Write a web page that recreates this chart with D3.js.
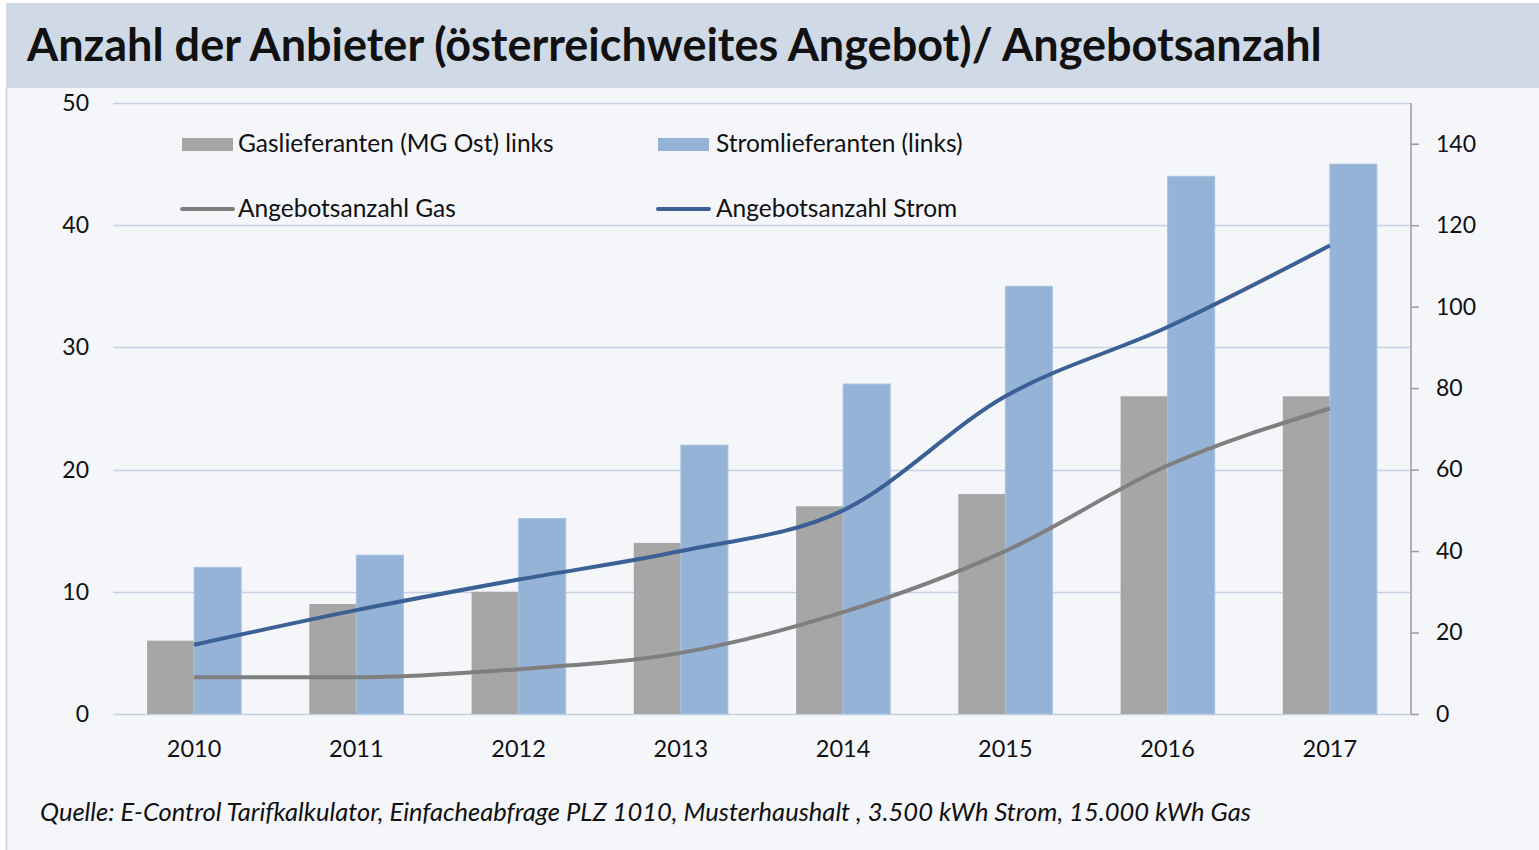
<!DOCTYPE html>
<html>
<head>
<meta charset="utf-8">
<script src="https://cdnjs.cloudflare.com/ajax/libs/d3/7.8.5/d3.min.js"></script>
<style>
  body { margin: 0; background: #fff; }
  text { font-family: Lato, "Open Sans", sans-serif; fill: #111; }
</style>
</head>
<body>
<div id="chart"></div>
<script>
  var years = ["2010", "2011", "2012", "2013", "2014", "2015", "2016", "2017"];
  var gasLieferanten = [6, 9, 10, 14, 17, 18, 26, 26];
  var stromLieferanten = [12, 13, 16, 22, 27, 35, 44, 45];
  var angeboteGas = [9, 9, 11, 15, 25, 40, 61, 75];
  var angeboteStrom = [17, 25.5, 33, 40, 50, 78, 95, 115];
  var leftTicks = [0, 10, 20, 30, 40, 50];
  var rightTicks = [0, 20, 40, 60, 80, 100, 120, 140];

  var W = 1539, H = 850;
  var plot = {left: 113, right: 1411, top: 103, bottom: 714};

  var svg = d3.select("#chart").append("svg")
      .attr("width", W)
      .attr("height", H);

  // backgrounds
  svg.append("rect").attr("x", 6).attr("y", 88).attr("width", W - 6).attr("height", H - 88)
      .attr("fill", "#f4f6fa");
  svg.append("line").attr("x1", 6.5).attr("x2", 6.5).attr("y1", 88).attr("y2", H)
      .attr("stroke", "#cfd9e6").attr("stroke-width", 2);
  svg.append("rect").attr("x", 6).attr("y", 3).attr("width", W - 6).attr("height", 85)
      .attr("fill", "#d0dae6");
  svg.append("text")
      .attr("x", 27).attr("y", 61)
      .style("font-size", "45px").style("font-weight", "bold")
      .text("Anzahl der Anbieter (österreichweites Angebot)/ Angebotsanzahl");

  var x0 = d3.scaleBand().domain(years).range([plot.left, plot.right])
      .paddingInner(0.42).paddingOuter(0.21);
  var x1 = d3.scaleBand().domain(["gas", "strom"]).range([0, x0.bandwidth()]);
  var yL = d3.scaleLinear().domain([0, 50]).range([plot.bottom, plot.top]);
  var yR = d3.scaleLinear().domain([0, 150]).range([plot.bottom, plot.top]);

  // gridlines
  svg.append("g").selectAll("line").data(leftTicks).enter().append("line")
      .attr("x1", plot.left).attr("x2", plot.right)
      .attr("y1", function(d) { return Math.round(yL(d)) + 0.5; })
      .attr("y2", function(d) { return Math.round(yL(d)) + 0.5; })
      .attr("stroke", "#c5d1e3").attr("stroke-width", 1.5);

  // left labels
  svg.append("g").selectAll("text").data(leftTicks).enter().append("text")
      .attr("x", 89).attr("y", function(d) { return yL(d) + 8; })
      .attr("text-anchor", "end").style("font-size", "23px")
      .text(function(d) { return d; });

  // right axis
  var rAxis = svg.append("g")
      .attr("transform", "translate(" + plot.right + ",0)")
      .call(d3.axisRight(yR).tickValues(rightTicks).tickSize(8).tickPadding(17));
  rAxis.select(".domain").attr("stroke", "#9a9a9a").attr("stroke-width", 1.5)
      .attr("d", "M0," + plot.top + "V" + plot.bottom);
  rAxis.selectAll(".tick line").attr("stroke", "#9a9a9a").attr("stroke-width", 1.5);
  rAxis.selectAll(".tick text").style("font-size", "23px").attr("fill", "#111")
      .style("font-family", "Lato, 'Open Sans', sans-serif");

  // bars
  var groups = svg.append("g").selectAll("g").data(years).enter().append("g")
      .attr("transform", function(d) { return "translate(" + x0(d) + ",0)"; });
  groups.append("rect")
      .attr("x", x1("gas")).attr("width", x1.bandwidth())
      .attr("y", function(d, i) { return yL(gasLieferanten[i]); })
      .attr("height", function(d, i) { return yL(0) - yL(gasLieferanten[i]); })
      .attr("fill", "#a6a6a6");
  groups.append("rect")
      .attr("x", x1("strom")).attr("width", x1.bandwidth())
      .attr("y", function(d, i) { return yL(stromLieferanten[i]); })
      .attr("height", function(d, i) { return yL(0) - yL(stromLieferanten[i]); })
      .attr("fill", "#95b3d7").attr("stroke", "#a9c2e0").attr("stroke-width", 1);

  // lines
  var cx = function(d, i) { return x0(years[i]) + x0.bandwidth() / 2; };
  var line = d3.line().x(cx).y(function(d) { return yR(d); }).curve(d3.curveMonotoneX);
  svg.append("path").datum(angeboteGas).attr("d", line)
      .attr("fill", "none").attr("stroke", "#7f7f7f").attr("stroke-width", 4);
  svg.append("path").datum(angeboteStrom).attr("d", line)
      .attr("fill", "none").attr("stroke", "#3a6095").attr("stroke-width", 4);

  // x labels
  svg.append("g").selectAll("text").data(years).enter().append("text")
      .attr("x", function(d) { return x0(d) + x0.bandwidth() / 2; })
      .attr("y", 757).attr("text-anchor", "middle").style("font-size", "23.5px")
      .text(function(d) { return d; });

  // legend
  var legend = svg.append("g");
  legend.append("rect").attr("x", 182).attr("y", 138).attr("width", 51).attr("height", 13).attr("fill", "#a6a6a6");
  legend.append("text").attr("x", 238).attr("y", 152).style("font-size", "24.5px").text("Gaslieferanten (MG Ost) links");
  legend.append("rect").attr("x", 658).attr("y", 138).attr("width", 51).attr("height", 13).attr("fill", "#95b3d7");
  legend.append("text").attr("x", 716).attr("y", 152).style("font-size", "24.5px").text("Stromlieferanten (links)");
  legend.append("line").attr("x1", 182).attr("x2", 233).attr("y1", 209).attr("y2", 209)
      .attr("stroke", "#7f7f7f").attr("stroke-width", 4).attr("stroke-linecap", "round");
  legend.append("text").attr("x", 238).attr("y", 217).style("font-size", "24.5px").text("Angebotsanzahl Gas");
  legend.append("line").attr("x1", 658).attr("x2", 709).attr("y1", 209).attr("y2", 209)
      .attr("stroke", "#3a6095").attr("stroke-width", 4).attr("stroke-linecap", "round");
  legend.append("text").attr("x", 716).attr("y", 217).style("font-size", "24.5px").text("Angebotsanzahl Strom");

  // source
  svg.append("text").attr("x", 40).attr("y", 821)
      .style("font-size", "25.5px").style("font-style", "italic")
      .text("Quelle: E-Control Tarifkalkulator, Einfacheabfrage PLZ 1010, Musterhaushalt , 3.500 kWh Strom, 15.000 kWh Gas");
</script>
</body>
</html>
